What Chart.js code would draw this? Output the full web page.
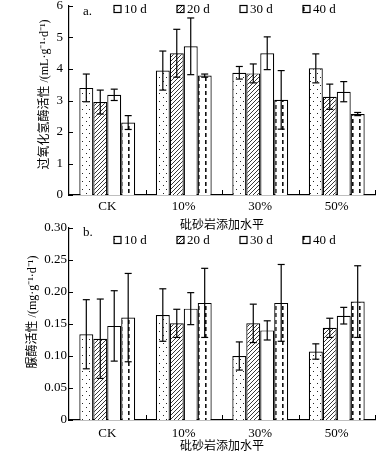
<!DOCTYPE html>
<html>
<head>
<meta charset="utf-8">
<script src="https://cdn.jsdelivr.net/npm/chart.js@4.4.0/dist/chart.umd.min.js"></script>
<style>
  body { margin: 0; background: #fff; width: 379px; height: 456px; position: relative; overflow: hidden; }
  canvas { position: absolute; left: 0; }
  #graficoA { top: 0; }
  #graficoB { top: 222px; }
</style>
</head>
<body>
<canvas id="graficoA" width="379" height="230"></canvas>
<canvas id="graficoB" width="379" height="234"></canvas>
<script>
const categorias = ['CK', '10%', '30%', '50%'];
const series = ['10 d', '20 d', '30 d', '40 d'];

// a. 过氧化氢酶活性
const catalase10 = [3.40, 3.95, 3.88, 4.02];
const catalase20 = [2.95, 4.50, 3.86, 3.12];
const catalase30 = [3.18, 4.72, 4.50, 3.28];
const catalase40 = [2.30, 3.79, 3.02, 2.57];
const catalaseErr10 = [0.44, 0.62, 0.20, 0.46];
const catalaseErr20 = [0.38, 0.76, 0.30, 0.40];
const catalaseErr30 = [0.18, 0.90, 0.52, 0.32];
const catalaseErr40 = [0.22, 0.05, 0.93, 0.05];

// b. 脲酶活性
const urease10 = [0.134, 0.164, 0.100, 0.107];
const urease20 = [0.127, 0.151, 0.151, 0.144];
const urease30 = [0.147, 0.174, 0.140, 0.163];
const urease40 = [0.160, 0.183, 0.183, 0.185];
const ureaseErr10 = [0.054, 0.041, 0.022, 0.012];
const ureaseErr20 = [0.062, 0.022, 0.030, 0.015];
const ureaseErr30 = [0.055, 0.025, 0.015, 0.013];
const ureaseErr40 = [0.069, 0.054, 0.060, 0.056];

const SERIF = '"Liberation Serif", "Times New Roman", "Noto Sans CJK SC", serif';
Chart.defaults.font.family = SERIF;
Chart.defaults.color = '#000';

function padrao(tipo) {
  const c = document.createElement('canvas');
  const g = c.getContext('2d');
  if (tipo === 'dots') {
    c.width = 7; c.height = 8;
    g.fillStyle = '#fff'; g.fillRect(0, 0, 7, 8);
    g.fillStyle = '#222';
    g.fillRect(2, 1, 1, 1);
    g.fillRect(5, 5, 1, 1);
  } else if (tipo === 'hatch') {
    c.width = 4; c.height = 4;
    g.fillStyle = '#fff'; g.fillRect(0, 0, 4, 4);
    g.strokeStyle = '#222'; g.lineWidth = 0.9;
    g.beginPath();
    g.moveTo(0, 4); g.lineTo(4, 0);
    g.moveTo(-1, 1); g.lineTo(1, -1);
    g.moveTo(3, 5); g.lineTo(5, 3);
    g.stroke();
  } else if (tipo === 'dash') {
    c.width = 7; c.height = 7;
    g.fillStyle = '#fff'; g.fillRect(0, 0, 7, 7);
    g.fillStyle = '#111';
    g.fillRect(2, 0, 1.6, 4);
  } else {
    c.width = 2; c.height = 2;
    g.fillStyle = '#fff'; g.fillRect(0, 0, 2, 2);
  }
  return g.createPattern(c, 'repeat');
}
const preenchimentos = [padrao('dots'), padrao('hatch'), padrao('blank'), padrao('dash')];

function linha(ctx, x1, y1, x2, y2) {
  ctx.beginPath(); ctx.moveTo(x1, y1); ctx.lineTo(x2, y2); ctx.stroke();
}

const barrasErro = {
  id: 'barrasErro',
  afterDatasetsDraw(chart) {
    const {ctx, scales: {y}} = chart;
    ctx.save();
    ctx.strokeStyle = '#000';
    ctx.lineWidth = 1.2;
    chart.data.datasets.forEach((ds, i) => {
      chart.getDatasetMeta(i).data.forEach((bar, j) => {
        const yt = y.getPixelForValue(ds.data[j] + ds.erro[j]);
        const yb = y.getPixelForValue(ds.data[j] - ds.erro[j]);
        linha(ctx, bar.x, yt, bar.x, yb);
        linha(ctx, bar.x - 3.5, yt, bar.x + 3.5, yt);
        linha(ctx, bar.x - 3.5, yb, bar.x + 3.5, yb);
      });
    });
    ctx.restore();
  }
};

const marcasEixo = {
  id: 'marcasEixo',
  afterDraw(chart) {
    const {ctx, chartArea: a, scales: {x, y}} = chart;
    ctx.save();
    ctx.strokeStyle = '#000';
    ctx.lineWidth = 1;
    y.ticks.forEach(t => {
      const py = Math.round(y.getPixelForValue(t.value)) + 0.5;
      linha(ctx, a.left, py, a.left + 4, py);
    });
    const w = x.getPixelForValue(1) - x.getPixelForValue(0);
    for (let i = 0; i < categorias.length; i++) {
      const px = Math.round(x.getPixelForValue(i) + w / 2) + 0.5;
      linha(ctx, px, a.bottom, px, a.bottom - 5);
    }
    ctx.restore();
  }
};

const legendaPainel = {
  id: 'legendaPainel',
  afterDraw(chart, args, opts) {
    const {ctx, chartArea: a} = chart;
    ctx.save();
    ctx.font = '13px ' + SERIF;
    ctx.fillStyle = '#000';
    ctx.textBaseline = 'middle';
    ctx.fillText(opts.tag, a.left + 14, a.top + opts.tagDy);
    const yc = a.top + opts.dy;
    chart.data.datasets.forEach((ds, i) => {
      const bx = a.left + 45 + i * 63;
      ctx.fillStyle = ds.backgroundColor;
      ctx.fillRect(bx, yc - 3.5, 7, 7);
      ctx.strokeStyle = '#000';
      ctx.lineWidth = 1.2;
      ctx.strokeRect(bx, yc - 3.5, 7, 7);
      ctx.fillStyle = '#000';
      ctx.fillText(ds.label, bx + 10, yc + 0.5);
    });
    ctx.restore();
  }
};

function criarGrafico(id, cfg) {
  return new Chart(document.getElementById(id), {
    type: 'bar',
    data: {
      labels: categorias,
      datasets: cfg.valores.map((v, i) => ({
        label: series[i],
        data: v,
        erro: cfg.erros[i],
        backgroundColor: preenchimentos[i],
        borderColor: '#000',
        borderWidth: 1.2,
        categoryPercentage: 0.73,
        barPercentage: 1
      }))
    },
    options: {
      responsive: false,
      animation: false,
      devicePixelRatio: 1,
      layout: { padding: { top: cfg.padTop, right: 4, left: 0, bottom: 0 } },
      plugins: {
        legend: { display: false },
        tooltip: { enabled: false },
        legendaPainel: { tag: cfg.tag, tagDy: cfg.tagDy, dy: cfg.legendDy }
      },
      scales: {
        x: {
          grid: { display: false, drawTicks: false },
          border: { display: true, color: '#000', width: 1.2 },
          ticks: { color: '#000', font: { size: 13 }, padding: cfg.xPad, maxRotation: 0 },
          title: { display: true, text: '砒砂岩添加水平', color: '#000', font: { size: 12 }, padding: { top: 0, bottom: cfg.xTitlePad } },
          afterFit: s => { s.height = cfg.xHeight; s.paddingLeft = 0; s.paddingRight = 0; }
        },
        y: {
          min: 0,
          max: cfg.max,
          grid: { display: false, drawTicks: false },
          border: { display: true, color: '#000', width: 1.2 },
          ticks: { stepSize: cfg.passo, color: '#000', font: { size: 13 }, padding: cfg.yPad, callback: cfg.formato },
          // leading spaces nudge the rotated title upward, as in the original
          title: { display: true, text: ' '.repeat(cfg.yTitleShift) + cfg.yTitulo, color: '#000', font: { size: 12 }, padding: { top: cfg.yTitlePad, bottom: 0 } },
          afterFit: s => { s.width = 69; s.paddingTop = 0; s.paddingBottom = 0; }
        }
      }
    },
    plugins: [barrasErro, marcasEixo, legendaPainel]
  });
}

criarGrafico('graficoA', {
  valores: [catalase10, catalase20, catalase30, catalase40],
  erros: [catalaseErr10, catalaseErr20, catalaseErr30, catalaseErr40],
  max: 6, passo: 1,
  formato: v => String(v),
  yTitulo: '过氧化氢酶活性 /(mL·g⁻¹·d⁻¹)',
  padTop: 6, xHeight: 35, xPad: 4, xTitlePad: -3, yPad: 6, yTitlePad: 38, yTitleShift: 4,
  tag: 'a.', tagDy: 6, legendDy: 3
});

criarGrafico('graficoB', {
  valores: [urease10, urease20, urease30, urease40],
  erros: [ureaseErr10, ureaseErr20, ureaseErr30, ureaseErr40],
  max: 0.3, passo: 0.05,
  formato: v => v === 0 ? '0' : v.toFixed(2),
  yTitulo: '脲酶活性 /(mg·g⁻¹·d⁻¹)',
  padTop: 6, xHeight: 36, xPad: 6, xTitlePad: 2, yPad: 2, yTitlePad: 26, yTitleShift: 8,
  tag: 'b.', tagDy: 5, legendDy: 12
});
</script>
</body>
</html>
